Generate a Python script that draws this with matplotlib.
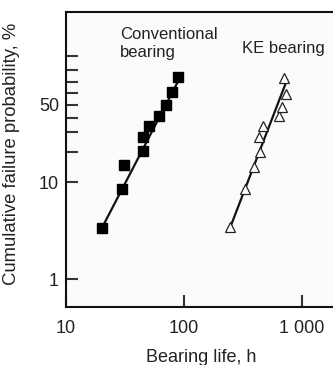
import numpy as np
import matplotlib
matplotlib.use("Agg")
import matplotlib.pyplot as plt

plt.rcParams['font.family'] = ['Liberation Sans', 'DejaVu Sans']

# cumulative failure probability, % (same ranks for both groups)
conv_life = [20.1, 29.8, 31.2, 44.7, 45.2, 50.8, 61.0, 70.0, 78.7, 89.5]
conv_prob = [3.4, 8.6, 15.0, 20.1, 27.2, 34.2, 41.2, 50.0, 61.1, 74.3]
ke_life = [247, 329, 392, 440, 428, 470, 638, 677, 736, 703]
ke_prob = [3.5, 8.6, 14.1, 20.0, 27.4, 34.0, 41.0, 48.6, 59.3, 74.0]

# fitted lines (end points)
conv_fit_x = [20.1, 92.5]
conv_fit_y = [3.4, 74.0]
ke_fit_x = [247, 746]
ke_fit_y = [3.5, 72.0]

yticks = [1, 10, 20, 30, 40, 50, 60, 70, 80, 90]
ylabels = {1: '1', 10: '10', 50: '50'}


def weib(p):
    p = np.clip(np.asarray(p, dtype=float), 1e-6, 99.9999)
    return np.log(-np.log(1 - p / 100.0))


def weib_inv(w):
    return 100.0 * (1 - np.exp(-np.exp(np.asarray(w, dtype=float))))


fig = plt.figure(figsize=(3.33, 3.65), dpi=100)
ax = fig.add_axes([0.198, 0.160, 0.802, 0.808])
ax.set_facecolor('#fbfbfb')

ax.set_xscale('log')
ax.set_yscale('function', functions=(weib, weib_inv))
ax.set_xlim(10, 1830)
ax.set_ylim(0.515, 99.875)

ax.plot(conv_fit_x, conv_fit_y, color='#111111', lw=1.6)
ax.plot(ke_fit_x, ke_fit_y, color='#111111', lw=1.6)
ax.plot(conv_life, conv_prob, 's', color='#000000', ms=7.5, ls='none')
ax.plot(ke_life, ke_prob, '^', mfc='white', mec='#222222', mew=0.9, ms=7, ls='none')

ax.set_yticks(yticks)
ax.set_yticklabels([ylabels.get(t, '') for t in yticks])
ax.yaxis.set_minor_locator(matplotlib.ticker.NullLocator())
ax.set_xticks([10, 100, 1000])
ax.set_xticklabels(['10', '100', '1 000'])
ax.xaxis.set_minor_locator(matplotlib.ticker.NullLocator())

ax.tick_params(direction='in', length=8.5, width=1.5, color='#333333',
               labelsize=13, labelcolor='#222222')
ax.tick_params(axis='x', pad=10)
ax.tick_params(axis='y', pad=5)
for t, tk in zip(yticks, ax.yaxis.get_major_ticks()):
    if t in (80, 90):
        tk.tick1line.set_color('#888888')

for side in ['left', 'bottom', 'top']:
    ax.spines[side].set_linewidth(1.5)
    ax.spines[side].set_color('#111111')
ax.spines['right'].set_visible(False)

ax.text(0.202, 0.947, 'Conventional\nbearing', transform=ax.transAxes,
        fontsize=12, color='#222222', va='top', ha='left', linespacing=1.2)
ax.text(0.659, 0.874, 'KE bearing', transform=ax.transAxes,
        fontsize=12, color='#222222', va='center', ha='left')

ax.set_xlabel('Bearing life, h', fontsize=13, color='#222222')
ax.xaxis.set_label_coords(0.505, -0.145)
ax.set_ylabel('Cumulative failure probability, %', fontsize=13.3, color='#222222')
ax.yaxis.set_label_coords(-0.172, 0.519)

fig.savefig('out.png', dpi=100)
